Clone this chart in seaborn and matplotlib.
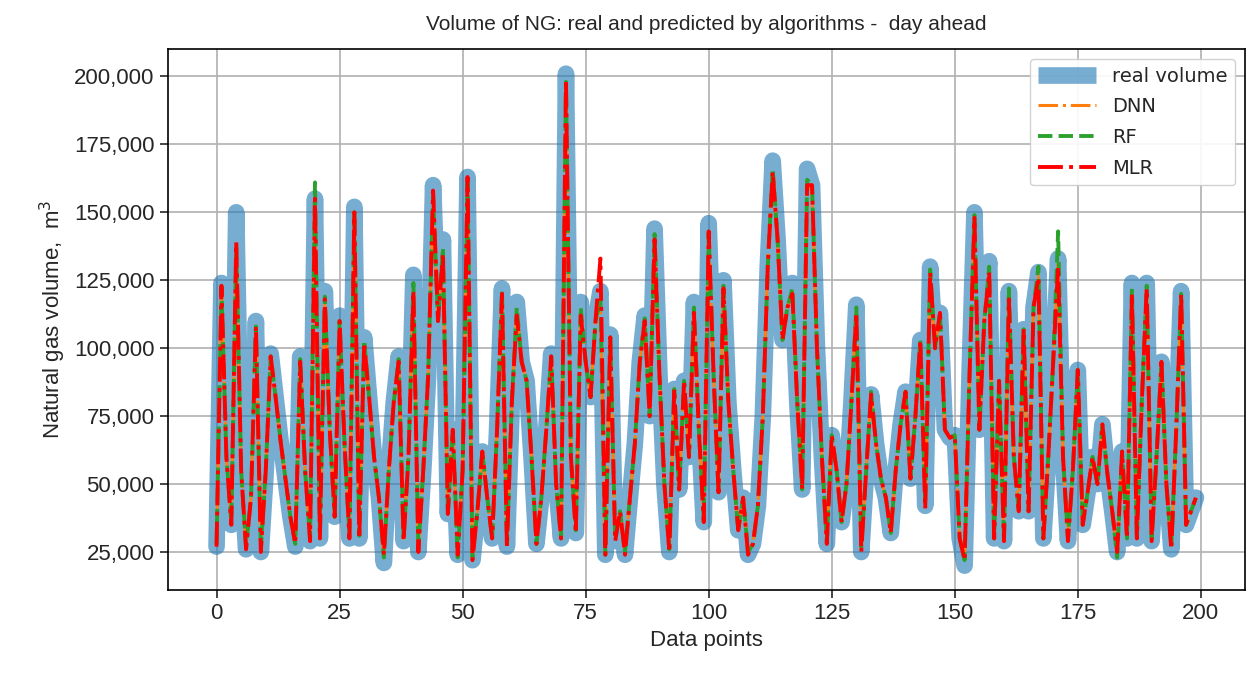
import numpy as np
import pandas as pd
import matplotlib.pyplot as plt
import matplotlib.ticker as mticker
import seaborn as sns

# values in thousands of m3
real_k = [27, 124, 60, 35, 150, 55, 26, 45, 110, 25,
          55, 98, 82, 66, 52, 38, 27, 97, 55, 29,
          155, 30, 121, 70, 38, 112, 65, 30, 152, 30,
          104, 82, 60, 45, 21, 55, 80, 97, 29, 60,
          127, 25, 55, 90, 160, 110, 140, 39, 70, 24,
          55, 163, 22, 40, 62, 45, 30, 70, 122, 27,
          80, 117, 95, 88, 60, 28, 45, 70, 98, 50,
          30, 201, 60, 32, 117, 95, 82, 110, 121, 24,
          105, 29, 40, 24, 45, 65, 95, 112, 75, 144,
          90, 50, 25, 85, 48, 88, 60, 117, 70, 36,
          146, 90, 47, 125, 80, 55, 33, 45, 24, 28,
          42, 75, 130, 169, 140, 103, 115, 124, 80, 48,
          166, 160, 100, 60, 28, 68, 55, 36, 50, 80,
          116, 25, 55, 83, 65, 52, 45, 32, 55, 72,
          84, 52, 75, 103, 42, 130, 100, 113, 70, 67,
          68, 30, 20, 90, 150, 70, 110, 132, 30, 88,
          29, 121, 60, 40, 107, 40, 115, 128, 30, 60,
          95, 133, 60, 29, 55, 92, 35, 47, 60, 50,
          72, 54, 40, 25, 62, 30, 124, 30, 80, 124,
          29, 60, 95, 50, 26, 70, 121, 35, 40, 45]

dnn_k = [28, 122, 60, 36, 136, 55, 27, 45, 108, 26,
         55, 96, 82, 66, 52, 38, 28, 96, 55, 30,
         150, 31, 119, 70, 38, 110, 65, 31, 149, 31,
         102, 82, 60, 45, 23, 55, 80, 95, 30, 60,
         123, 26, 55, 90, 155, 110, 136, 39, 70, 24,
         55, 160, 23, 40, 62, 45, 30, 70, 120, 28,
         80, 114, 95, 88, 60, 28, 45, 70, 96, 50,
         30, 196, 60, 33, 114, 95, 82, 110, 117, 25,
         103, 30, 40, 25, 45, 65, 95, 110, 75, 141,
         90, 50, 26, 85, 48, 88, 60, 114, 70, 37,
         142, 90, 47, 122, 80, 55, 33, 45, 25, 28,
         42, 75, 130, 163, 140, 103, 115, 121, 80, 48,
         160, 158, 100, 60, 29, 68, 55, 36, 50, 80,
         114, 26, 55, 83, 65, 52, 45, 32, 55, 72,
         84, 52, 75, 102, 43, 128, 100, 113, 70, 67,
         68, 30, 22, 90, 148, 70, 110, 129, 30, 88,
         30, 120, 60, 40, 106, 40, 115, 128, 30, 60,
         95, 132, 60, 30, 55, 92, 35, 47, 60, 50,
         72, 54, 40, 24, 62, 30, 121, 30, 80, 122,
         30, 60, 95, 50, 27, 70, 119, 35, 40, 45]

rf_k = [28, 122, 60, 36, 137, 55, 27, 45, 108, 26,
        55, 97, 82, 66, 52, 38, 28, 96, 55, 30,
        161, 31, 119, 70, 38, 110, 65, 31, 150, 31,
        103, 82, 60, 45, 23, 55, 80, 96, 30, 60,
        124, 26, 55, 90, 156, 110, 137, 39, 70, 23,
        55, 161, 23, 40, 62, 45, 30, 70, 121, 28,
        80, 115, 95, 88, 60, 28, 45, 70, 97, 50,
        30, 198, 60, 33, 115, 95, 82, 110, 118, 24,
        104, 30, 40, 25, 45, 65, 95, 111, 75, 142,
        90, 50, 26, 85, 48, 88, 60, 115, 70, 37,
        142, 90, 47, 123, 80, 55, 33, 45, 25, 28,
        42, 75, 130, 166, 140, 103, 115, 122, 80, 48,
        162, 160, 100, 60, 29, 68, 55, 36, 50, 80,
        115, 27, 55, 84, 65, 52, 45, 32, 55, 72,
        84, 52, 75, 103, 43, 129, 100, 113, 70, 67,
        68, 30, 22, 90, 149, 70, 110, 130, 30, 88,
        30, 122, 60, 40, 107, 40, 115, 130, 30, 60,
        95, 143, 60, 30, 55, 92, 35, 47, 60, 50,
        72, 54, 40, 23, 62, 30, 122, 30, 80, 123,
        30, 60, 95, 50, 27, 70, 120, 35, 40, 45]

mlr_k = [27, 123, 60, 35, 139, 55, 26, 45, 108, 25,
         55, 97, 82, 66, 52, 38, 28, 95, 55, 29,
         155, 30, 118, 70, 38, 110, 65, 30, 150, 30,
         102, 82, 60, 45, 24, 55, 80, 95, 29, 60,
         121, 25, 55, 90, 158, 110, 135, 39, 70, 24,
         55, 163, 22, 40, 62, 45, 30, 70, 120, 27,
         80, 112, 95, 88, 60, 28, 45, 70, 97, 50,
         30, 199, 60, 32, 112, 95, 82, 110, 133, 24,
         104, 29, 40, 24, 45, 65, 95, 110, 75, 140,
         90, 50, 25, 85, 48, 88, 60, 113, 70, 36,
         143, 90, 47, 122, 80, 55, 33, 45, 24, 28,
         42, 75, 130, 165, 140, 103, 115, 120, 80, 48,
         160, 160, 100, 60, 28, 68, 55, 36, 50, 80,
         113, 25, 55, 83, 65, 52, 45, 32, 55, 72,
         84, 52, 75, 103, 41, 128, 100, 113, 70, 67,
         68, 30, 22, 90, 148, 70, 110, 128, 30, 88,
         29, 118, 60, 40, 107, 40, 115, 126, 30, 60,
         95, 130, 60, 29, 55, 92, 35, 47, 60, 50,
         72, 54, 40, 25, 62, 30, 120, 30, 80, 122,
         29, 60, 95, 50, 26, 70, 120, 35, 40, 45]

x_ticks = [0, 25, 50, 75, 100, 125, 150, 175, 200]
y_ticks = [25000, 50000, 75000, 100000, 125000, 150000, 175000, 200000]

df = pd.DataFrame({
    "Data points": np.arange(len(real_k)),
    "real volume": np.array(real_k) * 1000,
    "DNN": np.array(dnn_k) * 1000,
    "RF": np.array(rf_k) * 1000,
    "MLR": np.array(mlr_k) * 1000,
})

sns.set_style("ticks")
plt.rcParams['font.family'] = ['Liberation Sans', 'DejaVu Sans']

fig, ax = plt.subplots(figsize=(12.6, 6.73), dpi=100)
fig.subplots_adjust(left=0.133, right=0.988, top=0.927, bottom=0.123)

sns.lineplot(data=df, x="Data points", y="real volume", color="#1f77b4", alpha=0.6,
             linewidth=12, solid_capstyle="round", solid_joinstyle="round",
             label="real volume", ax=ax)
sns.lineplot(data=df, x="Data points", y="DNN", color="#ff7f0e", linestyle="-.",
             linewidth=2.2, label="DNN", ax=ax)
sns.lineplot(data=df, x="Data points", y="RF", color="#2ca02c", linestyle="--",
             linewidth=2.8, label="RF", ax=ax)
sns.lineplot(data=df, x="Data points", y="MLR", color="red", linestyle="-.",
             linewidth=2.8, label="MLR", ax=ax)

ax.set_xticks(x_ticks)
ax.set_yticks(y_ticks)
ax.yaxis.set_major_formatter(mticker.FuncFormatter(lambda v, p: f"{int(v):,}"))
ax.tick_params(labelsize=16, length=6, width=1.2)
ax.grid(True, color="#b0b0b0", linewidth=1.2)
for s in ax.spines.values():
    s.set_color("black")
    s.set_linewidth(1.2)

ax.set_title("Volume of NG: real and predicted by algorithms -  day ahead", fontsize=15, pad=14)
ax.set_xlabel("Data points", fontsize=16)
ax.set_ylabel("Natural gas volume,  m$^3$", fontsize=16)

leg = ax.legend(loc="upper right", prop={"family": "DejaVu Sans", "size": 14},
                handlelength=3.0, labelspacing=0.6, framealpha=0.9,
                borderaxespad=0.5)
leg.legend_handles[0].set_solid_capstyle("butt")

fig.savefig("out.png", dpi=100)
